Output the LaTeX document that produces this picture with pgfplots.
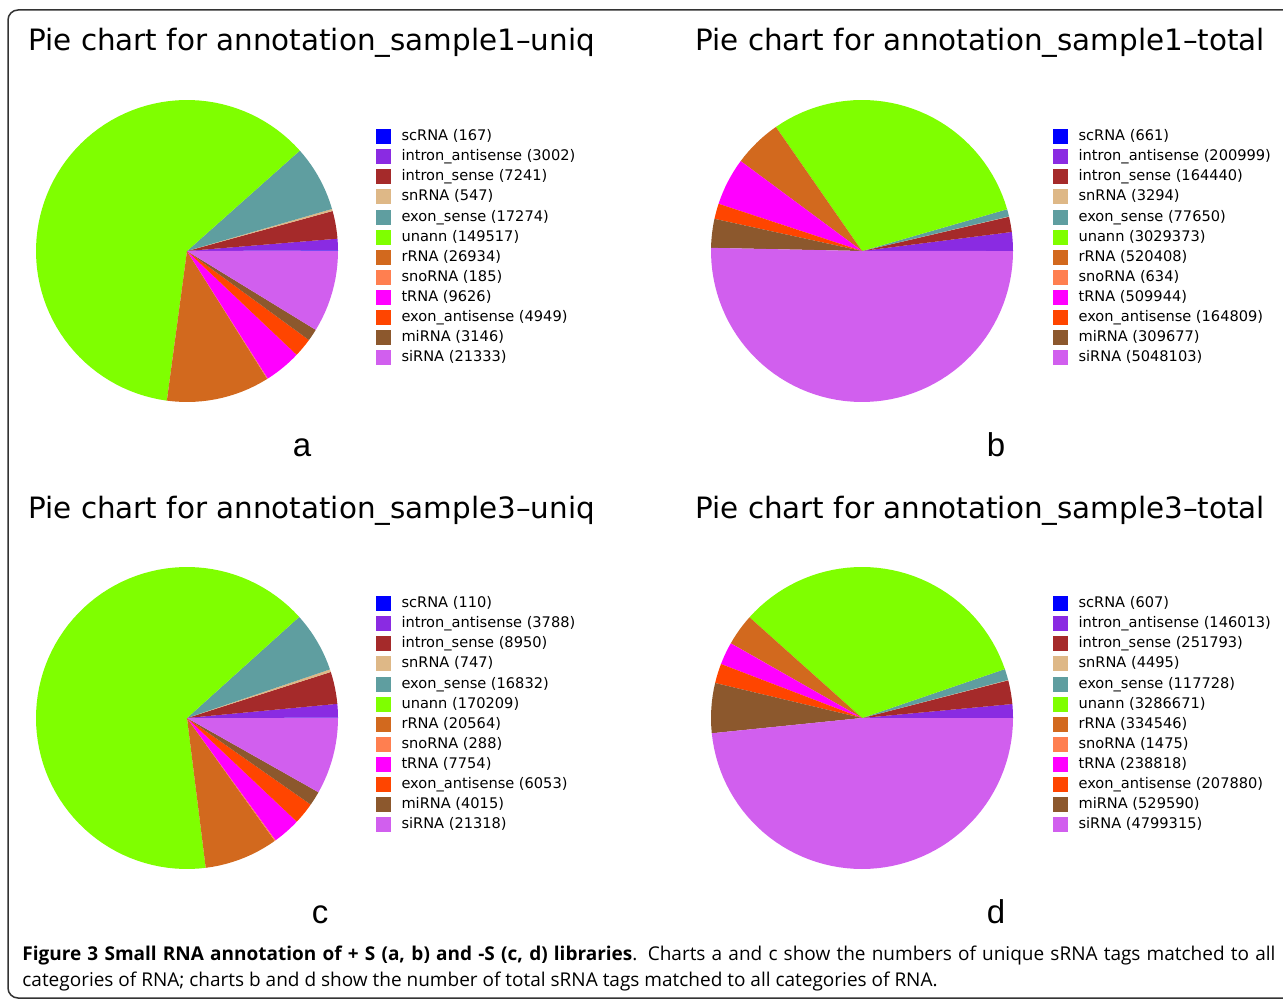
\documentclass[border=0pt]{standalone}
\usepackage{pgfplots}
\usepackage{pgfplotstable}
\pgfplotsset{compat=1.18}
\usepackage{fontspec}
\newfontfamily\titlefont{DejaVu Sans}
\newfontfamily\labfont{Liberation Sans}
\newfontfamily\capfont{Open Sans}

% slice colours, in legend order
\definecolor{pie1}{RGB}{0,0,255}
\definecolor{pie2}{RGB}{138,43,226}
\definecolor{pie3}{RGB}{165,42,42}
\definecolor{pie4}{RGB}{222,184,135}
\definecolor{pie5}{RGB}{95,158,160}
\definecolor{pie6}{RGB}{127,255,0}
\definecolor{pie7}{RGB}{210,105,30}
\definecolor{pie8}{RGB}{255,127,80}
\definecolor{pie9}{RGB}{255,0,255}
\definecolor{pie10}{RGB}{255,69,0}
\definecolor{pie11}{RGB}{140,88,45}
\definecolor{pie12}{RGB}{209,95,238}

\newcommand\nameof[1]{\ifcase#1\or scRNA\or intron\_antisense\or intron\_sense\or snRNA\or exon\_sense\or unann\or rRNA\or snoRNA\or tRNA\or exon\_antisense\or miRNA\or siRNA\fi}

% counts per library (rows follow the legend order)
\pgfplotstableread{
val
167
3002
7241
547
17274
149517
26934
185
9626
4949
3146
21333
}\tabA
\pgfplotstableread{
val
661
200999
164440
3294
77650
3029373
520408
634
509944
164809
309677
5048103
}\tabB
\pgfplotstableread{
val
110
3788
8950
747
16832
170209
20564
288
7754
6053
4015
21318
}\tabC
\pgfplotstableread{
val
607
146013
251793
4495
117728
3286671
334546
1475
238818
207880
529590
4799315
}\tabD

% slices counter-clockwise from 0 degrees, angles from the counts
\newcommand\drawpie[1]{%
  \pgfplotstablegetrowsof{#1}%
  \edef\nrows{\pgfplotsretval}%
  \def\tot{0}%
  \pgfplotsforeachungrouped \k in {1,...,\nrows}{%
    \pgfmathtruncatemacro\r{\k-1}%
    \pgfplotstablegetelem{\r}{val}\of{#1}%
    \edef\tot{\the\numexpr\tot+\pgfplotsretval\relax}%
  }%
  \def\cum{0}%
  \pgfplotsforeachungrouped \k in {1,...,\nrows}{%
    \pgfmathtruncatemacro\r{\k-1}%
    \pgfplotstablegetelem{\r}{val}\of{#1}%
    \edef\v{\pgfplotsretval}%
    \edef\aa{\the\numexpr 36000*\cum/\tot\relax}%
    \edef\cum{\the\numexpr\cum+\v\relax}%
    \edef\bb{\the\numexpr 36000*\cum/\tot\relax}%
    \edef\nsamp{\the\numexpr (\bb-\aa)/300+3\relax}%
    \edef\doit{\noexpand\addplot[draw=none, fill=pie\k, domain=\aa/100:\bb/100, samples=\nsamp]
      ({cos(x)},{sin(x)}) -- (axis cs:0,0) -- cycle;
      \noexpand\addlegendentry{\noexpand\nameof{\k}\space(\v)}}%
    \doit
  }%
}

\pgfplotsset{
  pie/.style={
    anchor=center, x=75.5pt, y=75.5pt,
    xmin=-1, xmax=1, ymin=-1, ymax=1,
    hide axis, clip=false,
    legend cell align=left,
    legend image code/.code={\fill[##1] (0pt,-3.75pt) rectangle (7.5pt,3.75pt);},
    legend style={anchor=north west, draw=none, fill=none, inner sep=0pt,
      outer sep=0pt, row sep=2.05pt, column sep=5.25pt,
      font=\titlefont\fontsize{7.3}{8}\selectfont,
      nodes={inner sep=0pt, text height=6pt, text depth=2pt}},
  },
}

\begin{document}
\begin{tikzpicture}
\path[use as bounding box] (0pt,0pt) rectangle (641.5pt,-499.5pt);
\draw[line width=0.75pt, color=black!80, rounded corners=5pt] (4pt,-5pt) rectangle (670pt,-499pt);

\begin{axis}[pie, at={(93.5pt,-125.5pt)}, legend style={at={(axis cs:1.2517,0.81)}}]
\drawpie{\tabA}
\end{axis}
\begin{axis}[pie, at={(431pt,-125.5pt)}, legend style={at={(axis cs:1.265,0.81)}}]
\drawpie{\tabB}
\end{axis}
\begin{axis}[pie, at={(93.5pt,-359pt)}, legend style={at={(axis cs:1.2517,0.81)}}]
\drawpie{\tabC}
\end{axis}
\begin{axis}[pie, at={(431pt,-359pt)}, legend style={at={(axis cs:1.265,0.81)}}]
\drawpie{\tabD}
\end{axis}

\begin{scope}[every node/.style={inner sep=0pt, anchor=base west}]
\node[font=\titlefont\fontsize{14.7}{16}\selectfont] at (14pt,-25.5pt) {Pie chart for annotation\_sample1–uniq};
\node[font=\titlefont\fontsize{14.7}{16}\selectfont] at (347.5pt,-25.5pt) {Pie chart for annotation\_sample1–total};
\node[font=\titlefont\fontsize{14.7}{16}\selectfont] at (14pt,-259pt) {Pie chart for annotation\_sample3–uniq};
\node[font=\titlefont\fontsize{14.7}{16}\selectfont] at (347.5pt,-259pt) {Pie chart for annotation\_sample3–total};
\end{scope}

\begin{scope}[every node/.style={inner sep=0pt, anchor=base, font=\labfont\fontsize{16.5}{18}\selectfont}]
\node at (151pt,-228.5pt) {a};
\node at (498pt,-228.5pt) {b};
\node at (160pt,-461.5pt) {c};
\node at (498pt,-461.5pt) {d};
\end{scope}

\begin{scope}[every node/.style={inner sep=0pt, anchor=base west, font=\capfont\fontsize{9.5}{12}\selectfont}]
\node at (11pt,-480pt) {\hbox to 626.5pt{\textbf{Figure 3 Small RNA annotation of + S (a, b) and -S (c, d) libraries}. Charts a and c show the numbers of unique sRNA tags matched to all}};
\node at (11pt,-493pt) {categories of RNA; charts b and d show the number of total sRNA tags matched to all categories of RNA.};
\end{scope}
\end{tikzpicture}
\end{document}
